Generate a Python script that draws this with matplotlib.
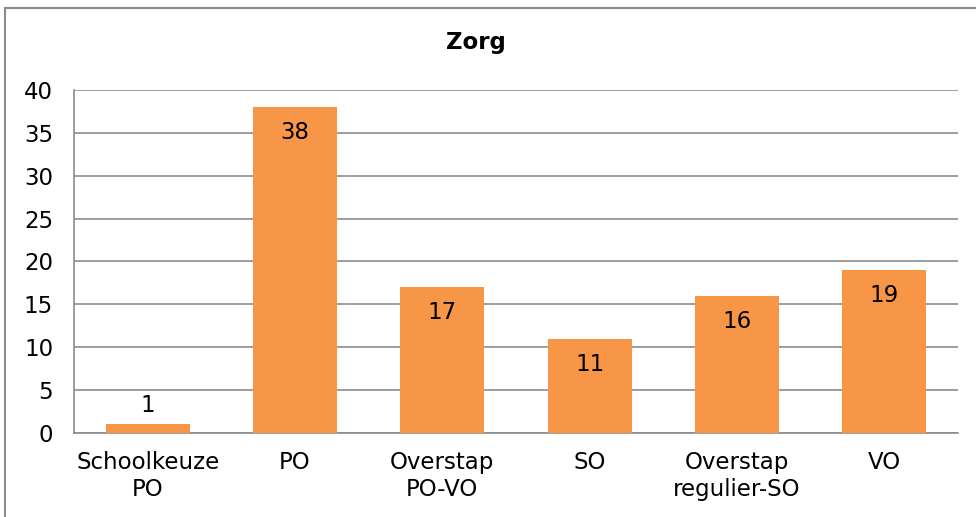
import matplotlib
matplotlib.use('Agg')
import matplotlib.pyplot as plt
from matplotlib.lines import Line2D

categories = ['Schoolkeuze\nPO', 'PO', 'Overstap\nPO-VO', 'SO', 'Overstap\nregulier-SO', 'VO']
values = [1, 38, 17, 11, 16, 19]
title = 'Zorg'
y_ticks = [0, 5, 10, 15, 20, 25, 30, 35, 40]

bar_color = '#F79646'
grid_color = '#8C8C8C'

plt.rcParams['font.family'] = ['DejaVu Sans']
fs = 16.5

fig = plt.figure(figsize=(9.76, 5.17), dpi=100)
ax = fig.add_axes([0.0758, 0.1625, 0.9058, 0.6634])

x = list(range(len(categories)))
bars = ax.bar(x, values, width=0.57, color=bar_color, zorder=3)

ax.set_xlim(-0.5, len(categories) - 0.5)
ax.set_ylim(0, 40)
ax.set_yticks(y_ticks)
ax.set_xticks(x)
ax.set_xticklabels(categories, fontsize=fs, linespacing=1.2)
ax.tick_params(axis='y', length=0, pad=15, labelsize=fs)
ax.tick_params(axis='x', length=0, pad=13)

ax.grid(axis='y', color=grid_color, linewidth=1.2, zorder=0)
for s in ['top', 'right']:
    ax.spines[s].set_visible(False)
ax.spines['left'].set_color(grid_color)
ax.spines['left'].set_linewidth(1.2)
ax.spines['bottom'].set_color(grid_color)
ax.spines['bottom'].set_linewidth(1.2)

# waarden in de staven
for b, v in zip(bars, values):
    cx = b.get_x() + b.get_width() / 2
    if v < 5:
        ax.text(cx, v + 0.9, str(v), ha='center', va='bottom', fontsize=fs, zorder=4)
    else:
        ax.text(cx, v - 3.0, str(v), ha='center', va='center', fontsize=fs, zorder=4)

fig.text(0.4877, 0.918, title, ha='center', va='center', fontsize=fs, fontweight='bold')

# rand om de grafiek
fig.add_artist(Line2D([0.0056, 0.0056], [0.0, 0.985], color='#8C8C8C', linewidth=1.5))
fig.add_artist(Line2D([0.0056, 1.0], [0.985, 0.985], color='#8C8C8C', linewidth=1.5))

fig.savefig('out.png', dpi=100)
